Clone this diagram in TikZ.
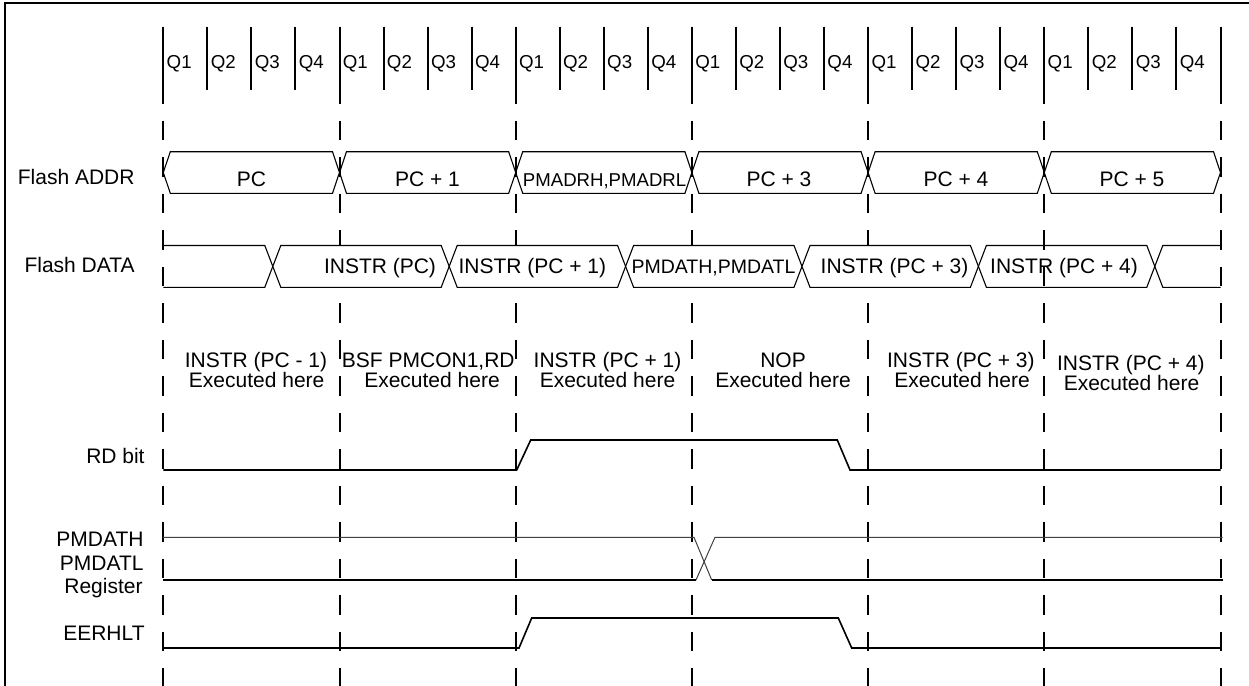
\documentclass[tikz,border=0pt]{standalone}
\usepackage{fontspec}
\setmainfont{Liberation Sans}
\begin{document}
\begin{tikzpicture}[x=0.5pt,y=-0.5pt,
  lbl/.style={font=\fontsize{10.5}{12}\selectfont, inner sep=0pt},
  lbls/.style={font=\fontsize{9.3}{11}\selectfont, inner sep=0pt},
  qlbl/.style={font=\fontsize{9.35}{11}\selectfont, inner sep=0pt, anchor=base west},
  tickline/.style={line width=1pt},
  gridline/.style={line width=1pt, dash pattern=on 9.75pt off 8.5pt},
  busline/.style={line width=0.55pt, line join=miter},
  sigline/.style={line width=0.8pt, line join=miter},
  thinsig/.style={line width=0.5pt, black!75}]
\useasboundingbox (0,0) rectangle (1249,686);
% frame
\draw[line width=1pt] (5,686) -- (5,3.3) -- (1249,3.3);
% Q ticks
\foreach \j in {0,...,24} {
  \pgfmathsetmacro\qx{163.3+44.05*\j}
  \draw[tickline] (\qx,26.7) -- (\qx,90);
}
% Q labels
\foreach \c in {0,...,5} {
  \foreach \q in {1,...,4} {
    \pgfmathsetmacro\qx{163.3+176.2*\c+44.05*(\q-1)+3}
    \node[qlbl] (q\c\q) at (\qx,68.3) {Q\q};
  }
}
% cycle boundaries
\foreach \k in {0,...,6} {
  \pgfmathsetmacro\bx{163.3+176.2*\k}
  \draw[tickline] (\bx,26.7) -- (\bx,100);
  \draw[gridline] (\bx,84) -- (\bx,686);
}
% Flash ADDR bus
\foreach \k in {0,...,5} {
  \pgfmathsetmacro\la{163.3+176.2*\k}
  \pgfmathsetmacro\ra{163.3+176.2*(\k+1)}
  \draw[busline] (\la,172.5) -- (\la+7,151.7) -- (\ra-7,151.7) -- (\ra,172.5) -- (\ra-7,193.3) -- (\la+7,193.3) -- cycle;
}
\node[lbl, anchor=base] (a0) at (251.4,186) {PC};
\node[lbl, anchor=base] (a1) at (427.5,186) {PC + 1};
\node[lbls, anchor=base] (a2) at (604.6,186) {PMADRH,PMADRL};
\node[lbl, anchor=base] (a3) at (779,186) {PC + 3};
\node[lbl, anchor=base] (a4) at (956,186) {PC + 4};
\node[lbl, anchor=base] (a5) at (1132,186) {PC + 5};
% Flash DATA bus
\draw[busline] (163.3,245.5) -- (264.8,245.5) -- (272.8,266.4);
\draw[busline] (163.3,287.3) -- (264.8,287.3) -- (272.8,266.4);
\foreach \k in {0,...,3} {
  \pgfmathsetmacro\la{272.8+176.4*\k}
  \pgfmathsetmacro\ra{272.8+176.4*(\k+1)}
  \draw[busline, fill=white] (\la,266.4) -- (\la+8,245.5) -- (\ra-8,245.5) -- (\ra,266.4) -- (\ra-8,287.3) -- (\la+8,287.3) -- cycle;
}
\draw[busline] (978.4,266.4) -- (986.4,245.5) -- (1146.8,245.5) -- (1154.8,266.4) -- (1146.8,287.3) -- (986.4,287.3) -- cycle;
\draw[busline] (1154.8,266.4) -- (1162.8,245.5) -- (1220.5,245.5);
\draw[busline] (1154.8,266.4) -- (1162.8,287.3) -- (1220.5,287.3);
\node[lbl, anchor=base] (d0) at (380,273.5) {INSTR (PC)};
\node[lbl, anchor=base] (d1) at (532.3,273.5) {INSTR (PC + 1)};
\node[font=\fontsize{9.75}{11}\selectfont, inner sep=0pt, anchor=base] (d2) at (713.5,273.5) {PMDATH,PMDATL};
\node[lbl, anchor=base] (d3) at (894.5,273.5) {INSTR (PC + 3)};
\node[lbl, anchor=base] (d4) at (1064,273.5) {INSTR (PC + 4)};
% executed texts
\node[lbl, anchor=base] (e0a) at (256,367) {INSTR (PC - 1)};
\node[lbl, anchor=base] (e0b) at (256.7,387) {Executed here};
\node[lbl, anchor=base] (e1a) at (428.3,367) {BSF PMCON1,RD};
\node[lbl, anchor=base] (e1b) at (432,387) {Executed here};
\node[lbl, anchor=base] (e2a) at (607.5,367) {INSTR (PC + 1)};
\node[lbl, anchor=base] (e2b) at (607.5,387) {Executed here};
\node[lbl, anchor=base] (e3a) at (783,367) {NOP};
\node[lbl, anchor=base] (e3b) at (783,387) {Executed here};
\node[lbl, anchor=base] (e4a) at (960.8,367) {INSTR (PC + 3)};
\node[lbl, anchor=base] (e4b) at (962,387) {Executed here};
\node[lbl, anchor=base] (e5a) at (1130.8,370) {INSTR (PC + 4)};
\node[lbl, anchor=base] (e5b) at (1131.5,390) {Executed here};
% RD bit
\draw[sigline] (163.3,470) -- (516.7,470) -- (530.7,440) -- (837.3,440) -- (850,470) -- (1220.5,470);
% PMDATH / PMDATL register
\draw[thinsig] (162.7,537.3) -- (694,537.3) -- (711.7,580);
\draw[thinsig] (696,580) -- (715,537.3) -- (1222.7,537.3);
\draw[sigline] (162.7,580) -- (696,580);
\draw[sigline] (711.7,580) -- (1222.7,580);
% EERHLT
\draw[sigline] (163.3,648) -- (519,648) -- (531.7,618) -- (838.3,618) -- (851.7,648) -- (1220.5,648);
% left labels
\node[lbl, anchor=base east] (lA) at (135,184) {Flash ADDR};
\node[lbl, anchor=base east] (lD) at (135,272.7) {Flash DATA};
\node[lbl, anchor=base east] (lR) at (145,463.3) {RD bit};
\node[lbl, anchor=base east] (lP1) at (144,546) {PMDATH};
\node[lbl, anchor=base east] (lP2) at (144,570.7) {PMDATL};
\node[lbl, anchor=base east] (lP3) at (143,593.3) {Register};
\node[lbl, anchor=base east] (lE) at (145,640.7) {EERHLT};
\end{tikzpicture}
\end{document}
